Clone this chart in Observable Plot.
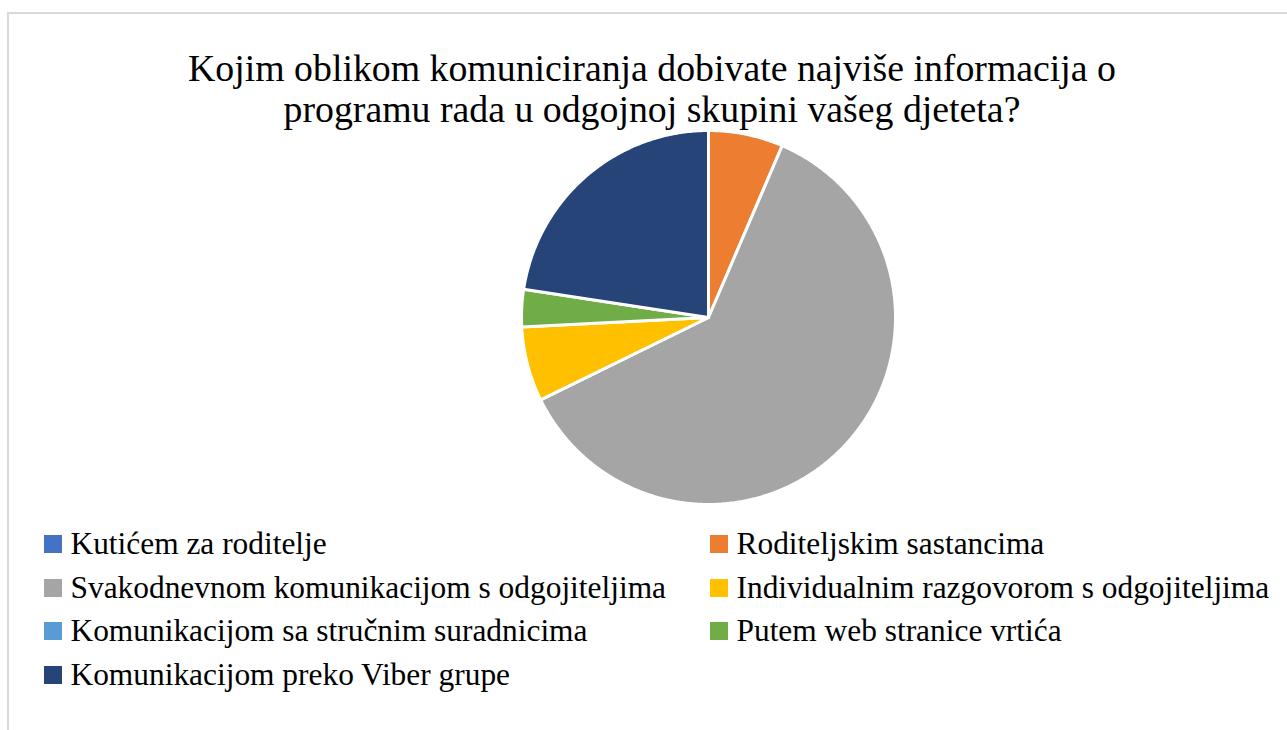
<!DOCTYPE html>
<html>
<head>
<meta charset="utf-8">
<script src="https://cdn.jsdelivr.net/npm/d3@7"></script>
<script src="https://cdn.jsdelivr.net/npm/@observablehq/plot@0.6"></script>
<style>
  html, body { margin: 0; padding: 0; background: #fff; }
  body { width: 1287px; height: 730px; position: relative; overflow: hidden; color: #000; font-family: "Liberation Serif", "Times New Roman", serif; }
  #frame { position: absolute; left: 7px; top: 12px; right: -4px; bottom: -4px; border-left: 2px solid #d9d9d9; border-top: 2px solid #d9d9d9; }
  #title { position: absolute; left: 102px; width: 1100px; top: 48px; text-align: center; font-size: 37.8px; line-height: 41px; }
  #chart { position: absolute; left: 508px; top: 117px; }
  #legend { position: absolute; left: 44px; top: 522.5px; display: grid; grid-template-columns: 666px 560px; font-size: 31.4px; }
  .item { display: flex; align-items: center; height: 43.5px; white-space: nowrap; }
  .sw { width: 18px; height: 18px; margin-right: 8.5px; flex: none; }
</style>
</head>
<body>
<div id="frame"></div>
<div id="title">Kojim oblikom komuniciranja dobivate najviše informacija o<br>programu rada u odgojnoj skupini vašeg djeteta?</div>
<div id="chart"></div>
<div id="legend"></div>
<script>
const categories = [
  "Kutićem za roditelje",
  "Roditeljskim sastancima",
  "Svakodnevnom komunikacijom s odgojiteljima",
  "Individualnim razgovorom s odgojiteljima",
  "Komunikacijom sa stručnim suradnicima",
  "Putem web stranice vrtića",
  "Komunikacijom preko Viber grupe"
];
const counts = [0, 2, 19, 2, 0, 1, 7];
const colors = ["#4472C4", "#ED7D31", "#A5A5A5", "#FFC000", "#5B9BD5", "#70AD47", "#264478"];

// slice outlines derived from the data via d3.pie (start at top, clockwise)
const pie = d3.pie().sort(null).value(d => d.count)
  (categories.map((c, i) => ({category: c, count: counts[i]})));
const pts = [];
for (const a of pie) {
  if (a.data.count === 0) continue;
  const cat = a.data.category;
  pts.push({category: cat, x: 0, y: 0});
  const n = Math.max(2, Math.ceil((a.endAngle - a.startAngle) / 0.01));
  for (let k = 0; k <= n; k++) {
    const t = a.startAngle + (a.endAngle - a.startAngle) * k / n;
    pts.push({category: cat, x: Math.sin(t), y: Math.cos(t)});
  }
}

const chart = Plot.plot({
  width: 400,
  height: 400,
  margin: 13,
  x: {domain: [-1, 1], axis: null},
  y: {domain: [-1, 1], axis: null},
  color: {domain: categories, range: colors},
  marks: [
    Plot.line(pts, {x: "x", y: "y", z: "category", fill: "category", stroke: "white", strokeWidth: 3, strokeLinejoin: "round", curve: "linear-closed"})
  ]
});
document.getElementById("chart").appendChild(chart);

const legend = document.getElementById("legend");
categories.forEach((c, i) => {
  const it = document.createElement("div");
  it.className = "item";
  const sw = document.createElement("span");
  sw.className = "sw";
  sw.style.background = colors[i];
  it.appendChild(sw);
  const tx = document.createElement("span");
  tx.textContent = c;
  it.appendChild(tx);
  legend.appendChild(it);
});
</script>
</body>
</html>
